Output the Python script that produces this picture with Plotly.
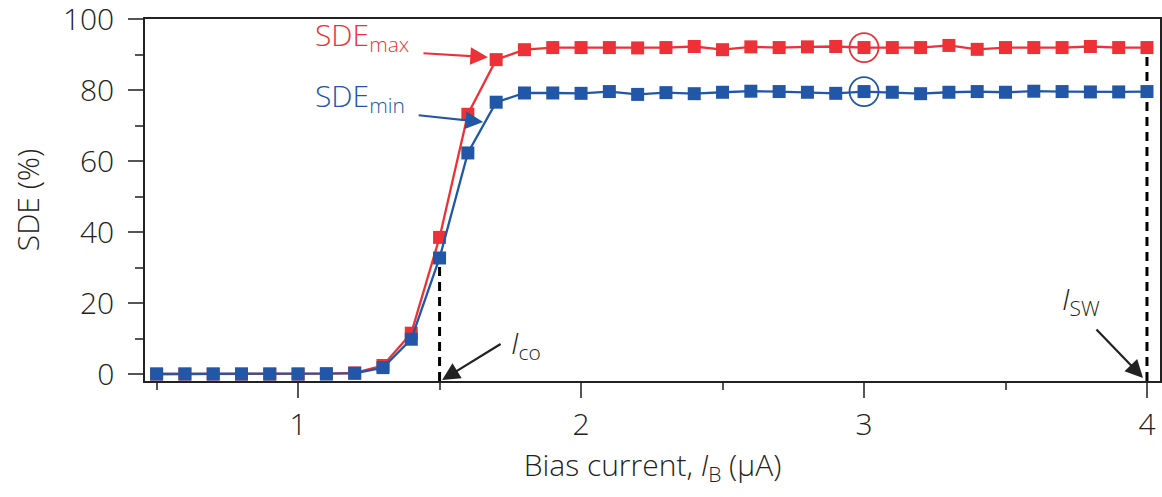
import plotly.graph_objects as go

# ---------------- data ----------------
bias_current = [0.5, 0.6, 0.7, 0.8, 0.9, 1.0, 1.1, 1.2, 1.3, 1.4, 1.5, 1.6,
                1.7, 1.8, 1.9, 2.0, 2.1, 2.2, 2.3, 2.4, 2.5, 2.6, 2.7, 2.8,
                2.9, 3.0, 3.1, 3.2, 3.3, 3.4, 3.5, 3.6, 3.7, 3.8, 3.9, 4.0]
sde_max = [0.0, 0.0, 0.0, 0.0, 0.0, 0.0, 0.1, 0.3, 2.4, 11.5, 38.5, 73.2,
           88.6, 91.4, 92.0, 92.0, 92.0, 91.9, 92.0, 92.3, 91.4, 92.2, 92.0, 92.2,
           92.3, 92.0, 92.0, 92.0, 92.6, 91.5, 92.0, 92.0, 92.0, 92.3, 92.0, 92.0]
sde_min = [0.0, 0.0, 0.0, 0.0, 0.0, 0.0, 0.0, 0.2, 1.8, 9.8, 32.7, 62.3,
           76.6, 79.2, 79.2, 79.1, 79.6, 78.8, 79.3, 79.0, 79.4, 79.7, 79.6, 79.4,
           79.1, 79.6, 79.4, 79.0, 79.4, 79.6, 79.4, 79.7, 79.6, 79.5, 79.5, 79.6]
i_co = 1.5
i_sw = 4.0
i_circle = 3.0
x_ticks = [1, 2, 3, 4]
y_ticks = [0, 20, 40, 60, 80, 100]

RED = "#EC3237"
BLUE = "#2157A6"
TXT = "#231F20"
FONT = "Open Sans"
FS = 30
W = 300

Y0 = -1.97
idx_co = bias_current.index(i_co)
idx_sw = bias_current.index(i_sw)
idx_c = bias_current.index(i_circle)

fig = go.Figure()

# dashed reference lines
fig.add_trace(go.Scatter(x=[i_co, i_co], y=[Y0, sde_min[idx_co]], mode="lines",
                         line=dict(color="black", width=3, dash="9px,6px"),
                         hoverinfo="skip", showlegend=False, cliponaxis=False))
fig.add_trace(go.Scatter(x=[i_sw, i_sw], y=[Y0, sde_max[idx_sw]], mode="lines",
                         line=dict(color="black", width=3, dash="9px,6px"),
                         hoverinfo="skip", showlegend=False, cliponaxis=False))

fig.add_trace(go.Scatter(x=bias_current, y=sde_max, mode="lines+markers",
                         line=dict(color=RED, width=2.3),
                         marker=dict(symbol="square", size=13, color=RED),
                         name="SDE max", showlegend=False, cliponaxis=False))
fig.add_trace(go.Scatter(x=bias_current, y=sde_min, mode="lines+markers",
                         line=dict(color=BLUE, width=2.3),
                         marker=dict(symbol="square", size=13, color=BLUE),
                         name="SDE min", showlegend=False, cliponaxis=False))

# highlight circles
fig.add_trace(go.Scatter(x=[i_circle], y=[sde_max[idx_c]], mode="markers",
                         marker=dict(symbol="circle-open", size=29,
                                     line=dict(color=RED, width=1.8), color=RED),
                         hoverinfo="skip", showlegend=False))
fig.add_trace(go.Scatter(x=[i_circle], y=[sde_min[idx_c]], mode="markers",
                         marker=dict(symbol="circle-open", size=29,
                                     line=dict(color=BLUE, width=1.8), color=BLUE),
                         hoverinfo="skip", showlegend=False))

annotations = [
    # text labels
    dict(x=1.053, y=95.2, xref="x", yref="y", text="SDE<sub>max</sub>",
         showarrow=False, xanchor="left", yanchor="middle",
         font=dict(family=FONT, size=FS, color=RED, weight=W)),
    dict(x=1.053, y=78.2, xref="x", yref="y", text="SDE<sub>min</sub>",
         showarrow=False, xanchor="left", yanchor="middle",
         font=dict(family=FONT, size=FS, color=BLUE, weight=W)),
    dict(x=1.806, y=8.4, xref="x", yref="y", text="<i>I</i><sub>co</sub>",
         showarrow=False, xanchor="center", yanchor="middle",
         font=dict(family=FONT, size=FS, color=TXT, weight=W)),
    dict(x=3.766, y=20.9, xref="x", yref="y", text="<i>I</i><sub>SW</sub>",
         showarrow=False, xanchor="center", yanchor="middle",
         font=dict(family=FONT, size=FS, color=TXT, weight=W)),
    # arrows
    dict(x=1.671, y=89.3, xref="x", yref="y", ax=-66, ay=-4, text="",
         showarrow=True, arrowhead=2, arrowsize=1.6, arrowwidth=2.2, arrowcolor=RED),
    dict(x=1.654, y=71.0, xref="x", yref="y", ax=-66, ay=-7, text="",
         showarrow=True, arrowhead=2, arrowsize=1.6, arrowwidth=2.2, arrowcolor=BLUE),
    dict(x=1.509, y=-1.7, xref="x", yref="y", ax=60, ay=-37, text="",
         showarrow=True, arrowhead=2, arrowsize=1.6, arrowwidth=2.2, arrowcolor="#222"),
    dict(x=3.986, y=-1.1, xref="x", yref="y", ax=-48, ay=-50, text="",
         showarrow=True, arrowhead=2, arrowsize=1.6, arrowwidth=2.2, arrowcolor="#222"),
]

fig.update_layout(
    width=1162, height=497,
    margin=dict(l=145, r=2, t=19, b=116, autoexpand=False),
    paper_bgcolor="white", plot_bgcolor="white",
    font=dict(family=FONT, size=FS, color=TXT, weight=W),
    annotations=annotations,
    showlegend=False,
)

fig.update_xaxes(
    range=[0.459, 4.046], tickvals=x_ticks, ticktext=[str(v) for v in x_ticks],
    showgrid=False, zeroline=False, automargin=False, ticklabeloverflow="allow",
    showline=True, mirror=True, linecolor="#222", linewidth=1.5,
    ticks="outside", ticklen=15, tickwidth=1.5, tickcolor="#555",
    minor=dict(dtick=0.5, tick0=0.5, ticks="outside", ticklen=7, tickwidth=1.5, tickcolor="#555"),
    tickfont=dict(family=FONT, size=FS, color=TXT, weight=W),
    ticklabelstandoff=1,
    title=dict(text="Bias current, <i>I</i><sub>B</sub> (μA)", standoff=12,
               font=dict(family=FONT, size=FS, color=TXT, weight=W)),
)
fig.update_yaxes(
    range=[Y0, 100.05], tickvals=y_ticks, ticktext=[str(v) for v in y_ticks],
    showgrid=False, zeroline=False, automargin=False, ticklabeloverflow="allow",
    showline=True, mirror=True, linecolor="#222", linewidth=1.5,
    ticks="outside", ticklen=15, tickwidth=1.5, tickcolor="#555",
    minor=dict(dtick=20, tick0=10, ticks="outside", ticklen=8, tickwidth=1.5, tickcolor="#555"),
    tickfont=dict(family=FONT, size=FS, color=TXT, weight=W),
    ticklabelstandoff=8,
    title=dict(text="SDE (%)", standoff=14, font=dict(family=FONT, size=FS, color=TXT, weight=W)),
)

fig.write_html("out.html", config={"displayModeBar": False},
               post_script="document.body.style.margin='0';document.body.style.padding='0';")
